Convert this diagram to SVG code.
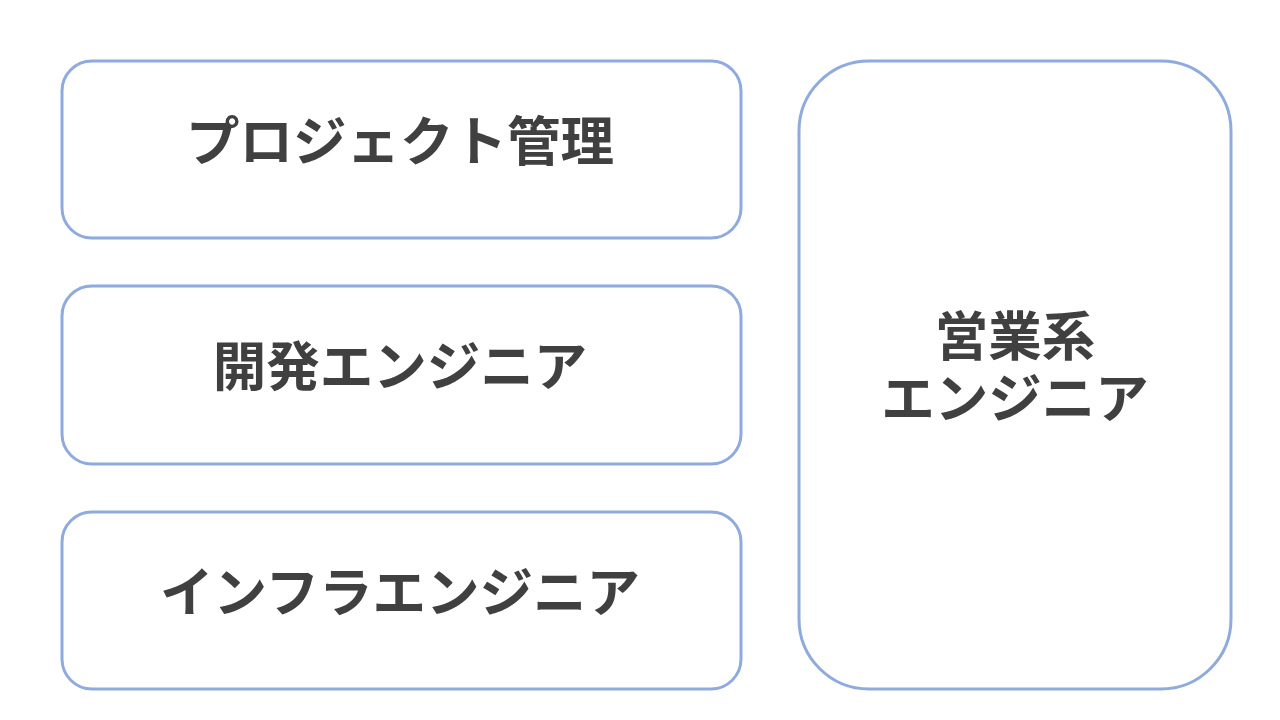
<svg xmlns="http://www.w3.org/2000/svg" width="1280" height="720" viewBox="0 0 1280 720">
<style>
.box{fill:#ffffff;stroke:#8FAADC;stroke-width:3}
.t{font-family:"Noto Sans CJK JP","Noto Sans CJK SC",sans-serif;font-weight:bold;font-size:53.5px;fill:#404040;text-anchor:middle}
</style>
<rect width="1280" height="720" fill="#ffffff"/>
<g id="node-pm"><rect class="box" x="62" y="61" width="679" height="177" rx="30" ry="30"/><text class="t" x="400" y="161">プロジェクト管理</text></g>
<g id="node-dev"><rect class="box" x="62" y="286" width="679" height="178" rx="30" ry="30"/><text class="t" x="400" y="386">開発エンジニア</text></g>
<g id="node-infra"><rect class="box" x="62" y="512" width="679" height="177" rx="30" ry="30"/><text class="t" x="400" y="612">インフラエンジニア</text></g>
<g id="node-sales"><rect class="box" x="799" y="61" width="432" height="628" rx="70" ry="70"/><text class="t" x="1015" y="356">営業系<tspan x="1015" dy="62">エンジニア</tspan></text></g>
<g id="connectors"></g>
</svg>
